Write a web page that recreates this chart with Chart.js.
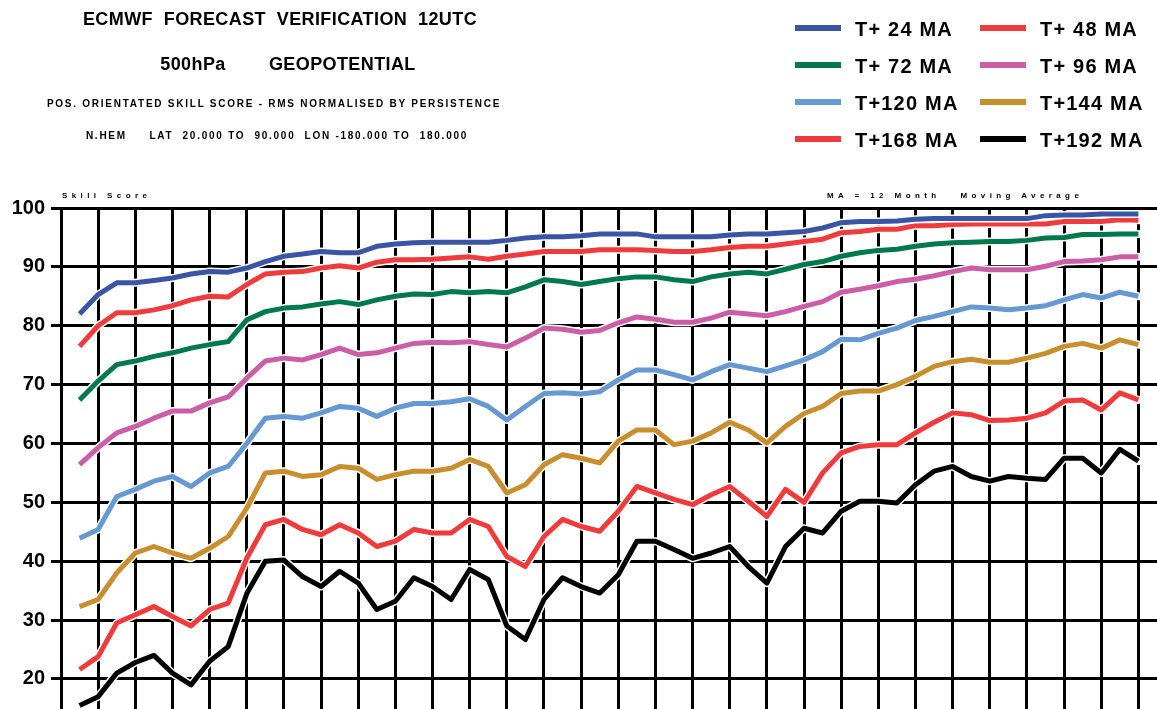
<!DOCTYPE html>
<html>
<head>
<meta charset="utf-8">
<title>ECMWF forecast verification 12UTC - 500hPa geopotential</title>
<script src="https://cdn.jsdelivr.net/npm/chart.js@4.4.1/dist/chart.umd.min.js"></script>
<style>
  body { margin: 0; background: #fff; }
  #wrap { position: relative; width: 1157px; height: 709px; overflow: hidden;
          font-family: "Liberation Sans", Arial, sans-serif; font-weight: bold; color: #000; }
  #chart { position: absolute; left: 0; top: 0; }
  .c { position: absolute; white-space: pre; transform: translate(-50%, -50%); }
  .l { position: absolute; white-space: pre; transform: translateY(-50%); }
  .big { font-size: 18px; letter-spacing: 0.4px; }
  .small { font-size: 10px; letter-spacing: 1.75px; }
  .tiny { font-size: 8px; letter-spacing: 4.4px; }
  .key { position: absolute; width: 46px; height: 6px; }
  .keytxt { position: absolute; white-space: pre; font-size: 20px; letter-spacing: 1.2px; transform: translateY(-50%); }
</style>
</head>
<body>
<div id="wrap">
  <canvas id="chart" width="1157" height="709"></canvas>
  <div class="c big" style="left:280px;top:19px">ECMWF  FORECAST  VERIFICATION  12UTC</div>
  <div class="c big" style="left:288px;top:64px">500hPa        GEOPOTENTIAL</div>
  <div class="c small" style="left:274px;top:103px">POS. ORIENTATED SKILL SCORE - RMS NORMALISED BY PERSISTENCE</div>
  <div class="c small" style="left:277px;top:135px">N.HEM     LAT  20.000 TO  90.000  LON -180.000 TO  180.000</div>
  <div class="l tiny" style="left:62px;top:195px">Skill Score</div>
  <div class="l tiny" style="left:827px;top:195px">MA = 12 Month   Moving Average</div>
  <div id="legend"></div>
</div>
<script>
// time axis in years from the left edge, one value every half year
var years = [
  0.5, 1, 1.5, 2, 2.5, 3, 3.5, 4, 4.5, 5, 5.5, 6, 6.5, 7, 7.5, 8, 8.5, 9, 9.5,
  10, 10.5, 11, 11.5, 12, 12.5, 13, 13.5, 14, 14.5, 15, 15.5, 16, 16.5, 17, 17.5, 18, 18.5, 19, 19.5,
  20, 20.5, 21, 21.5, 22, 22.5, 23, 23.5, 24, 24.5, 25, 25.5, 26, 26.5, 27, 27.5, 28, 28.5, 29
];
var yearLines = [0, 1, 2, 3, 4, 5, 6, 7, 8, 9, 10, 11, 12, 13, 14, 15, 16, 17, 18, 19, 20, 21, 22, 23, 24, 25, 26, 27, 28, 29];
var yTicks = [20, 30, 40, 50, 60, 70, 80, 90, 100];

// 12 month moving average skill scores per forecast step
var t24 = [
  82.0, 85.3, 87.3, 87.3, 87.7, 88.1, 88.8, 89.2, 89.1, 89.8, 90.9, 91.8, 92.2, 92.6, 92.4, 92.4, 93.5, 93.9, 94.1,
  94.2, 94.2, 94.2, 94.2, 94.5, 94.9, 95.1, 95.1, 95.3, 95.6, 95.6, 95.6, 95.1, 95.1, 95.1, 95.1, 95.4, 95.6, 95.6, 95.8,
  96.0, 96.6, 97.5, 97.7, 97.7, 97.8, 98.1, 98.2, 98.2, 98.2, 98.2, 98.2, 98.2, 98.7, 98.8, 98.8, 99.0, 99.0, 99.0
];
var t48 = [
  76.5, 80.0, 82.2, 82.2, 82.7, 83.4, 84.4, 85.0, 84.9, 87.0, 88.8, 89.1, 89.2, 89.8, 90.2, 89.8, 90.8, 91.2, 91.2,
  91.3, 91.5, 91.7, 91.3, 91.8, 92.2, 92.6, 92.6, 92.6, 92.9, 92.9, 92.9, 92.8, 92.6, 92.6, 92.9, 93.3, 93.5, 93.5, 93.9,
  94.3, 94.7, 95.8, 96.0, 96.4, 96.4, 97.0, 97.0, 97.2, 97.3, 97.3, 97.3, 97.3, 97.3, 97.7, 97.7, 97.7, 98.0, 97.9
];
var t72 = [
  67.4, 70.6, 73.4, 74.0, 74.8, 75.4, 76.2, 76.8, 77.3, 81.0, 82.4, 83.0, 83.2, 83.7, 84.1, 83.6, 84.4, 85.0, 85.4,
  85.3, 85.8, 85.6, 85.8, 85.6, 86.6, 87.8, 87.5, 87.0, 87.5, 88.0, 88.3, 88.3, 87.8, 87.5, 88.3, 88.8, 89.1, 88.8, 89.6,
  90.4, 90.9, 91.8, 92.4, 92.8, 93.0, 93.5, 93.9, 94.1, 94.2, 94.3, 94.3, 94.5, 94.9, 95.0, 95.5, 95.5, 95.6, 95.6
];
var t96 = [
  56.4, 59.3, 61.8, 62.9, 64.3, 65.5, 65.5, 66.9, 67.9, 71.1, 74.0, 74.5, 74.2, 75.1, 76.2, 75.1, 75.4, 76.2, 77.0,
  77.2, 77.1, 77.3, 76.8, 76.4, 77.9, 79.6, 79.4, 78.9, 79.2, 80.5, 81.5, 81.1, 80.6, 80.6, 81.3, 82.3, 82.0, 81.7, 82.4,
  83.3, 84.1, 85.7, 86.2, 86.8, 87.5, 87.9, 88.5, 89.2, 89.8, 89.5, 89.5, 89.5, 90.1, 90.9, 91.0, 91.2, 91.7, 91.7
];
var t120 = [
  43.9, 45.4, 51.0, 52.2, 53.6, 54.4, 52.7, 55.0, 56.1, 60.0, 64.3, 64.6, 64.3, 65.2, 66.3, 66.0, 64.6, 66.0, 66.8,
  66.8, 67.1, 67.6, 66.3, 64.0, 66.3, 68.5, 68.6, 68.4, 68.8, 70.8, 72.5, 72.5, 71.7, 70.8, 72.2, 73.4, 72.8, 72.2, 73.2,
  74.2, 75.6, 77.7, 77.6, 78.7, 79.6, 80.9, 81.6, 82.4, 83.2, 83.0, 82.7, 83.0, 83.4, 84.4, 85.3, 84.7, 85.7, 85.0
];
var t144 = [
  32.3, 33.5, 38.0, 41.4, 42.5, 41.4, 40.5, 42.2, 44.2, 49.0, 55.0, 55.3, 54.4, 54.7, 56.1, 55.8, 53.9, 54.7, 55.3,
  55.3, 55.8, 57.3, 56.1, 51.6, 53.0, 56.4, 58.1, 57.5, 56.7, 60.4, 62.3, 62.3, 59.8, 60.4, 61.8, 63.6, 62.3, 60.1, 62.9,
  65.1, 66.3, 68.5, 68.9, 68.9, 70.0, 71.4, 73.1, 73.9, 74.3, 73.8, 73.8, 74.5, 75.3, 76.5, 77.0, 76.2, 77.6, 76.8
];
var t168 = [
  21.6, 23.8, 29.5, 30.9, 32.3, 30.6, 29.0, 31.8, 32.9, 40.5, 46.2, 47.1, 45.4, 44.5, 46.2, 44.8, 42.5, 43.4, 45.4,
  44.8, 44.8, 47.1, 45.9, 40.8, 39.1, 44.2, 47.1, 45.9, 45.1, 48.5, 52.7, 51.6, 50.5, 49.6, 51.3, 52.7, 50.2, 47.6, 52.2,
  50.0, 55.0, 58.4, 59.5, 59.8, 59.8, 61.8, 63.6, 65.2, 64.9, 63.9, 64.0, 64.3, 65.2, 67.2, 67.4, 65.7, 68.6, 67.4
];
var t192 = [
  15.5, 17.0, 21.0, 22.8, 24.0, 21.0, 19.0, 23.0, 25.5, 34.5, 40.0, 40.2, 37.4, 35.7, 38.3, 36.3, 31.8, 33.2, 37.2,
  35.7, 33.5, 38.6, 36.9, 29.0, 26.7, 33.5, 37.2, 35.7, 34.6, 37.7, 43.4, 43.4, 42.0, 40.5, 41.4, 42.5, 39.1, 36.3, 42.5,
  45.6, 44.8, 48.5, 50.2, 50.2, 49.9, 53.0, 55.3, 56.1, 54.4, 53.6, 54.4, 54.1, 53.9, 57.5, 57.5, 55.0, 59.0, 57.0
];

var labels = ['T+ 24 MA', 'T+ 48 MA', 'T+ 72 MA', 'T+ 96 MA', 'T+120 MA', 'T+144 MA', 'T+168 MA', 'T+192 MA'];
var colors = ['#3b55a5', '#ef3b3b', '#00794b', '#cb5ea7', '#6698d2', '#c98f2e', '#ef3b3b', '#000000'];
var values = [t24, t48, t72, t96, t120, t144, t168, t192];

var FONT = '"Liberation Sans", Arial, sans-serif';

// white edge under every curve so the grid stops short of it
var halo = {
  id: 'halo',
  beforeDatasetDraw: function(chart, args) {
    var pts = args.meta.data, ctx = chart.ctx, a = chart.chartArea;
    ctx.save();
    ctx.beginPath();
    ctx.rect(a.left, a.top - 5, a.right - a.left, a.bottom - a.top + 10);
    ctx.clip();
    ctx.beginPath();
    pts.forEach(function(p, i) { if (i) ctx.lineTo(p.x, p.y); else ctx.moveTo(p.x, p.y); });
    ctx.strokeStyle = '#fff';
    ctx.lineWidth = 8;
    ctx.lineJoin = 'round';
    ctx.lineCap = 'round';
    ctx.stroke();
    ctx.restore();
  }
};

var chart = new Chart(document.getElementById('chart'), {
  type: 'line',
  data: {
    datasets: labels.map(function(lab, k) {
      return {
        label: lab,
        data: years.map(function(x, i) { return { x: x, y: values[k][i] }; }),
        borderColor: colors[k],
        backgroundColor: colors[k],
        borderWidth: 5,
        pointRadius: 0,
        tension: 0,
        fill: false,
        borderJoinStyle: 'round'
      };
    })
  },
  options: {
    responsive: false,
    animation: false,
    devicePixelRatio: 1,
    layout: { padding: { top: 208, left: 0, right: 0, bottom: 0 } },
    plugins: { legend: { display: false }, tooltip: { enabled: false } },
    scales: {
      x: {
        type: 'linear', min: 0, max: 29.5,
        afterBuildTicks: function(s) { s.ticks = yearLines.map(function(v) { return { value: v }; }); },
        afterFit: function(s) { s.height = 0; s.paddingLeft = 0; s.paddingRight = 0; },
        ticks: { display: false },
        grid: { color: '#000', lineWidth: 3, drawTicks: false },
        border: { display: false }
      },
      y: {
        min: 14.9, max: 100,
        afterBuildTicks: function(s) { s.ticks = yTicks.map(function(v) { return { value: v }; }); },
        // keep the plot running right down to the lower edge
        afterFit: function(s) { s.width = 61; s.paddingTop = 0; s.paddingBottom = 0; },
        ticks: { color: '#000', padding: 6, font: { family: FONT, size: 20, weight: 'bold' } },
        grid: { color: '#000', lineWidth: 3, tickLength: 10 },
        border: { color: '#000', width: 3 }
      }
    }
  },
  plugins: [halo]
});

// two column key in the top right corner
var legend = document.getElementById('legend');
var keyCols = [795, 980], keyRows = [28, 65, 102, 139];
chart.data.datasets.forEach(function(ds, i) {
  var col = i % 2, row = Math.floor(i / 2);
  var sw = document.createElement('div');
  sw.className = 'key';
  sw.style.left = keyCols[col] + 'px';
  sw.style.top = (keyRows[row] - 3) + 'px';
  sw.style.background = ds.borderColor;
  legend.appendChild(sw);
  var tx = document.createElement('div');
  tx.className = 'keytxt';
  tx.style.left = (keyCols[col] + 60) + 'px';
  tx.style.top = (keyRows[row] + 1) + 'px';
  tx.textContent = ds.label;
  legend.appendChild(tx);
});
</script>
</body>
</html>
